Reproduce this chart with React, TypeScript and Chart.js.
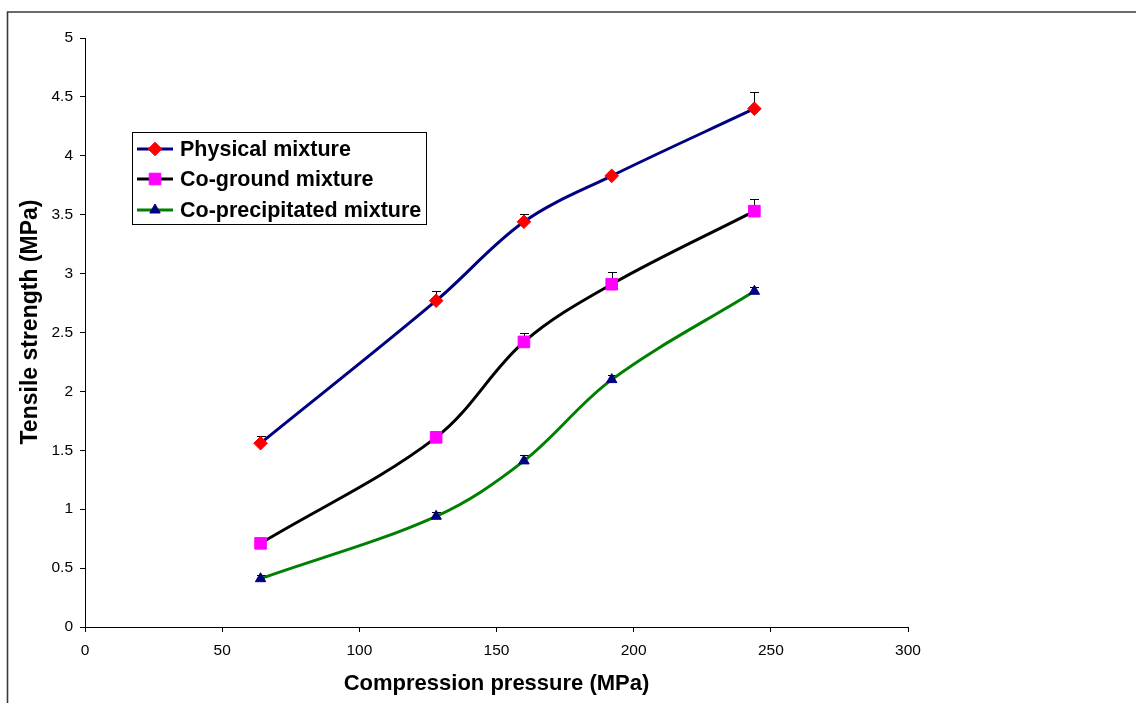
import { useEffect, useRef } from "react";
import { Chart, registerables } from "chart.js";

Chart.register(...registerables);

// Compression pressure (MPa) at which each tablet set was made
const pressures = [64, 128, 160, 192, 244];

// Mean tensile strength (MPa) for each preparation
const physicalMixture = [1.56, 2.77, 3.44, 3.83, 4.4];
const coGroundMixture = [0.71, 1.61, 2.42, 2.91, 3.53];
const coPrecipitatedMixture = [0.41, 0.94, 1.41, 2.1, 2.85];

// Upper error (SD) for each point
const physicalError = [0.06, 0.08, 0.07, 0.03, 0.14];
const coGroundError = [0.03, 0.04, 0.08, 0.1, 0.1];
const coPrecipitatedError = [0.03, 0.035, 0.05, 0.04, 0.04];

const seriesNames = ["Physical mixture", "Co-ground mixture", "Co-precipitated mixture"];

const xTitle = "Compression pressure (MPa)";
const yTitle = "Tensile strength (MPa)";

const FONT = "'Liberation Sans', Arial, sans-serif";

const errorsByDataset = [physicalError, coGroundError, coPrecipitatedError];

const toPoints = (ys: number[]) => pressures.map((x, i) => ({ x, y: ys[i] }));

// Marker shapes with the same geometry Chart.js uses for its point styles
function markerPath(ctx: CanvasRenderingContext2D, style: string, r: number, x: number, y: number) {
  ctx.beginPath();
  if (style === "rect") {
    const s = Math.SQRT1_2 * r;
    ctx.rect(x - s, y - s, 2 * s, 2 * s);
  } else if (style === "rectRot") {
    ctx.moveTo(x, y - r);
    ctx.lineTo(x + r, y);
    ctx.lineTo(x, y + r);
    ctx.lineTo(x - r, y);
    ctx.closePath();
  } else {
    const a = (2 * Math.PI) / 3;
    ctx.moveTo(x, y - r);
    ctx.lineTo(x + Math.sin(a) * r, y - Math.cos(a) * r);
    ctx.lineTo(x + Math.sin(2 * a) * r, y - Math.cos(2 * a) * r);
    ctx.closePath();
  }
}

// Outer frame, error bars, axis titles and the boxed legend
const decorations = {
  id: "decorations",
  beforeDraw(chart: any) {
    const ctx = chart.ctx;
    ctx.save();
    ctx.fillStyle = "#ffffff";
    ctx.fillRect(0, 0, chart.width, chart.height);
    ctx.strokeStyle = "#3a3a3a";
    ctx.lineWidth = 1.6;
    ctx.beginPath();
    ctx.moveTo(7.5, chart.height);
    ctx.lineTo(7.5, 12);
    ctx.lineTo(chart.width, 12);
    ctx.stroke();
    ctx.restore();
  },
  beforeDatasetsDraw(chart: any) {
    const ctx = chart.ctx;
    const yScale = chart.scales.y;
    ctx.save();
    ctx.strokeStyle = "#000000";
    ctx.lineWidth = 1;
    chart.data.datasets.forEach((ds: any, di: number) => {
      const meta = chart.getDatasetMeta(di);
      const errs = errorsByDataset[di];
      meta.data.forEach((pt: any, i: number) => {
        const x = Math.round(pt.x) + 0.5;
        const top = Math.round(yScale.getPixelForValue(ds.data[i].y + errs[i])) + 0.5;
        ctx.beginPath();
        ctx.moveTo(x, pt.y);
        ctx.lineTo(x, top);
        ctx.moveTo(x - 4.5, top);
        ctx.lineTo(x + 4.5, top);
        ctx.stroke();
      });
    });
    ctx.restore();
  },
  afterDraw(chart: any) {
    const ctx = chart.ctx;
    const area = chart.chartArea;
    ctx.save();
    ctx.fillStyle = "#000000";
    ctx.textAlign = "center";
    ctx.textBaseline = "middle";
    ctx.font = `bold 22px ${FONT}`;
    ctx.fillText(xTitle, (area.left + area.right) / 2, 684);
    ctx.save();
    ctx.font = `bold 23px ${FONT}`;
    ctx.translate(31, 322);
    ctx.rotate(-Math.PI / 2);
    ctx.fillText(yTitle, 0, 0);
    ctx.restore();

    // legend box
    const bx = 132.5;
    const by = 132.5;
    const bw = 294;
    const bh = 92;
    ctx.fillStyle = "#ffffff";
    ctx.fillRect(bx, by, bw, bh);
    ctx.strokeStyle = "#000000";
    ctx.lineWidth = 1;
    ctx.strokeRect(bx, by, bw, bh);
    const rows = [149, 179, 210];
    chart.data.datasets.forEach((ds: any, di: number) => {
      const y = rows[di];
      ctx.strokeStyle = ds.borderColor;
      ctx.lineWidth = ds.borderWidth;
      ctx.beginPath();
      ctx.moveTo(137, y);
      ctx.lineTo(173, y);
      ctx.stroke();
      ctx.fillStyle = ds.pointBackgroundColor;
      ctx.strokeStyle = ds.pointBorderColor;
      ctx.lineWidth = ds.pointBorderWidth;
      markerPath(ctx, ds.pointStyle, ds.pointRadius, 155, y);
      ctx.fill();
      ctx.stroke();
      ctx.fillStyle = "#000000";
      ctx.font = `bold 21.5px ${FONT}`;
      ctx.textAlign = "left";
      ctx.textBaseline = "middle";
      ctx.fillText(ds.label, 180, y + 1);
    });
    ctx.restore();
  },
};

export default function App() {
  const canvasRef = useRef<HTMLCanvasElement | null>(null);

  useEffect(() => {
    const canvas = canvasRef.current;
    if (!canvas) return;

    const tickFont = { family: FONT, size: 15.5 };

    const chart = new Chart(canvas, {
      type: "line",
      data: {
        datasets: [
          {
            label: seriesNames[0],
            data: toPoints(physicalMixture),
            borderColor: "#000080",
            borderWidth: 3,
            pointStyle: "rectRot",
            pointRadius: 6.8,
            pointBackgroundColor: "#ff0000",
            pointBorderColor: "#ff0000",
            pointBorderWidth: 1,
            tension: 0.35,
          },
          {
            label: seriesNames[1],
            data: toPoints(coGroundMixture),
            borderColor: "#000000",
            borderWidth: 3,
            pointStyle: "rect",
            pointRadius: 8.2,
            pointBackgroundColor: "#ff00ff",
            pointBorderColor: "#ff00ff",
            pointBorderWidth: 1,
            tension: 0.35,
          },
          {
            label: seriesNames[2],
            data: toPoints(coPrecipitatedMixture),
            borderColor: "#008000",
            borderWidth: 3,
            pointStyle: "triangle",
            pointRadius: 6,
            pointBackgroundColor: "#000080",
            pointBorderColor: "#000080",
            pointBorderWidth: 1,
            tension: 0.35,
          },
        ],
      },
      options: {
        responsive: false,
        animation: false,
        events: [],
        layout: { padding: { top: 38, right: 228, left: 0, bottom: 0 } },
        plugins: {
          legend: { display: false },
          tooltip: { enabled: false },
        },
        scales: {
          x: {
            type: "linear",
            min: 0,
            max: 300,
            ticks: { stepSize: 50, font: tickFont, color: "#000000", padding: 9, maxRotation: 0 },
            grid: {
              display: true,
              drawOnChartArea: false,
              drawTicks: true,
              tickLength: 5,
              color: "#000000",
              lineWidth: 1,
            },
            border: { display: true, color: "#000000", width: 1 },
            afterFit: (s: any) => {
              s.height = 76;
            },
          },
          y: {
            type: "linear",
            min: 0,
            max: 5,
            ticks: {
              stepSize: 0.5,
              font: tickFont,
              color: "#000000",
              padding: 7,
              callback: (v: any) => String(v),
            },
            grid: {
              display: true,
              drawOnChartArea: false,
              drawTicks: true,
              tickLength: 5,
              color: "#000000",
              lineWidth: 1,
            },
            border: { display: true, color: "#000000", width: 1 },
            afterFit: (s: any) => {
              s.width = 85;
            },
          },
        },
      },
      plugins: [decorations],
    } as any);

    return () => chart.destroy();
  }, []);

  return (
    <div style={{ position: "absolute", left: 0, top: 0, width: 1136, height: 703 }}>
      <canvas ref={canvasRef} width={1136} height={703} style={{ display: "block" }} />
    </div>
  );
}
